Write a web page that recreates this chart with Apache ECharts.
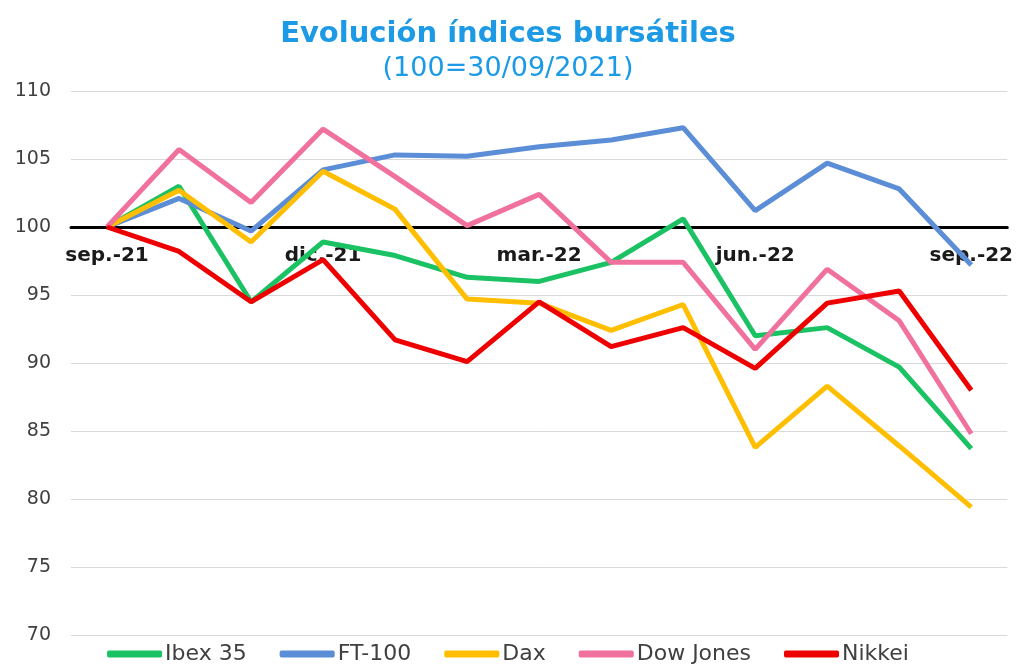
<!DOCTYPE html>
<html>
<head>
<meta charset="utf-8">
<title>Evolución índices bursátiles</title>
<script src="https://cdn.jsdelivr.net/npm/echarts/dist/echarts.min.js"></script>
<style>
    html,body{margin:0;padding:0;background:#fff;}
    #chart{width:1016px;height:664px;}
</style>
</head>
<body>
<div id="chart"></div>
<script>
// datos: índice 100 = 30/09/2021
var meses = ['sep.-21','oct.-21','nov.-21','dic.-21','ene.-22','feb.-22','mar.-22','abr.-22','may.-22','jun.-22','jul.-22','ago.-22','sep.-22'];
var ibex35 = [100, 103.0, 94.5, 98.9, 97.9, 96.3, 96.0, 97.4, 100.6, 92.0, 92.6, 89.7, 83.7];
var ft100 = [100, 102.1, 99.7, 104.2, 105.3, 105.2, 105.9, 106.4, 107.3, 101.2, 104.7, 102.8, 97.2];
var dax = [100, 102.7, 98.9, 104.1, 101.3, 94.7, 94.4, 92.4, 94.3, 83.8, 88.3, 83.9, 79.4];
var dowJones = [100, 105.7, 101.8, 107.2, 103.7, 100.1, 102.4, 97.4, 97.4, 91.0, 96.9, 93.1, 84.8];
var nikkei = [100, 98.2, 94.5, 97.6, 91.7, 90.1, 94.5, 91.2, 92.6, 89.6, 94.4, 95.3, 88.0];

var yMin = 70, yMax = 110, base = 100;
var gridTop = 91, gridBottom = 29;
var fuente = 'DejaVu Sans, Verdana, sans-serif';

// el eje x cruza en 100
var gridH = 664 - gridTop - gridBottom;
var ejeOffset = -(base - yMin) / (yMax - yMin) * gridH;

function serie(nombre, datos, color){
    return {
        name: nombre,
        type: 'line',
        data: datos,
        showSymbol: false,
        symbol: 'none',
        lineStyle: {width: 5, color: color},
        itemStyle: {color: color}
    };
}

var myChart = echarts.init(document.getElementById('chart'));
var option = {
    backgroundColor: '#fff',
    animation: false,
    title: [{
        text: 'Evolución índices bursátiles',
        left: 'center',
        top: 15,
        textStyle: {fontFamily: fuente, fontSize: 29, fontWeight: 'bold', color: '#1C9AE6'}
    },{
        text: '(100=30/09/2021)',
        left: 'center',
        top: 50,
        textStyle: {fontFamily: fuente, fontSize: 27, fontWeight: 'normal', color: '#1C9AE6'}
    }],
    legend: {
        bottom: -6,
        left: 'center',
        icon: 'roundRect',
        itemWidth: 55,
        itemHeight: 7,
        itemGap: 33,
        textStyle: {fontFamily: fuente, fontSize: 22, color: '#404040', padding: [0,0,0,-2]},
        data: ['Ibex 35','FT-100','Dax','Dow Jones','Nikkei']
    },
    grid: {left: 71, right: 8, top: gridTop, bottom: gridBottom},
    xAxis: {
        type: 'category',
        data: meses,
        boundaryGap: true,
        offset: ejeOffset,
        axisLine: {show: true, lineStyle: {color: '#000', width: 3}},
        axisTick: {show: false},
        axisLabel: {interval: 2, margin: 19, fontFamily: fuente, fontSize: 20, fontWeight: 'bold', color: '#1a1a1a'},
        splitLine: {show: false}
    },
    yAxis: {
        type: 'value',
        min: yMin,
        max: yMax,
        interval: 5,
        axisLine: {show: false},
        axisTick: {show: false},
        axisLabel: {margin: 20, fontFamily: fuente, fontSize: 19, color: '#404040'},
        splitLine: {lineStyle: {color: '#d9d9d9', width: 1}}
    },
    series: [
        serie('Ibex 35', ibex35, '#1BC263'),
        serie('FT-100', ft100, '#5B8ED6'),
        serie('Dax', dax, '#FFBF00'),
        serie('Dow Jones', dowJones, '#F0709E'),
        serie('Nikkei', nikkei, '#EE0000')
    ]
};
myChart.setOption(option);
</script>
</body>
</html>
